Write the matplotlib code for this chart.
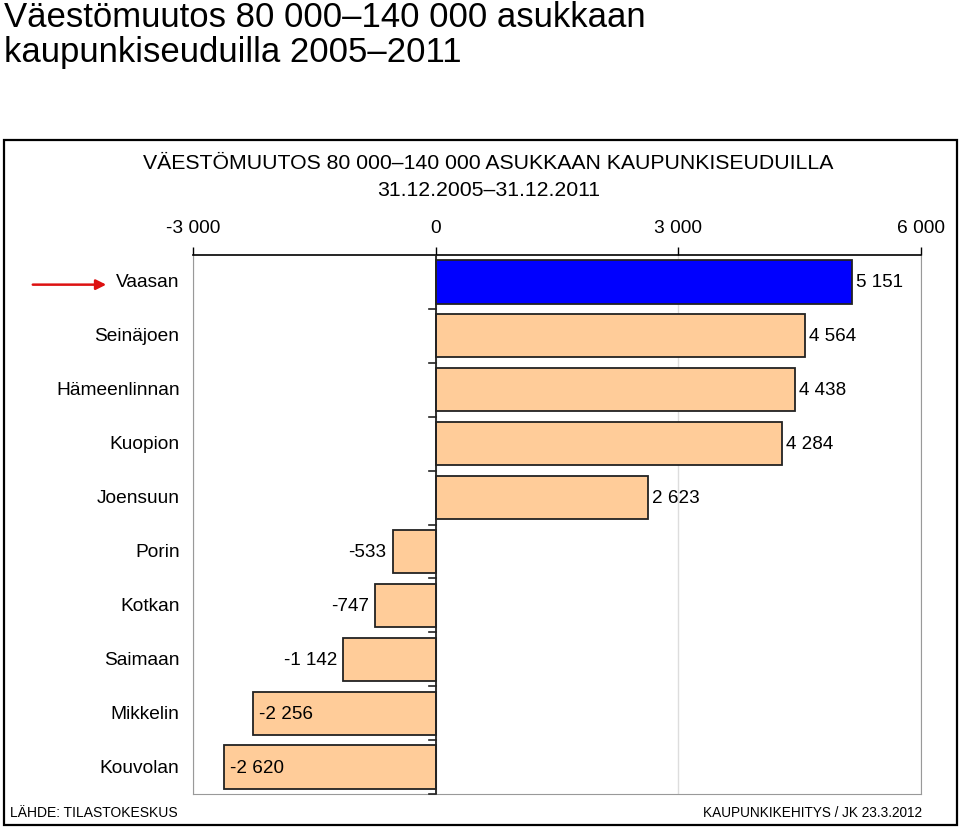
import matplotlib.pyplot as plt
import matplotlib.transforms as mtransforms
from matplotlib.patches import Rectangle, FancyArrowPatch

plt.rcParams['font.family'] = ['Liberation Sans', 'DejaVu Sans']

cities = ['Vaasan', 'Seinäjoen', 'Hämeenlinnan', 'Kuopion', 'Joensuun',
          'Porin', 'Kotkan', 'Saimaan', 'Mikkelin', 'Kouvolan']
change = [5151, 4564, 4438, 4284, 2623, -533, -747, -1142, -2256, -2620]
highlight = 'Vaasan'
xticks = [-3000, 0, 3000, 6000]


def fmt(v):
    return f'{v:,}'.replace(',', ' ')


fig = plt.figure(figsize=(9.6, 8.28), dpi=100)

# outer title
fig.text(0.004, 0.999, 'Väestömuutos 80 000–140 000 asukkaan\nkaupunkiseuduilla 2005–2011',
         ha='left', va='top', fontsize=25, linespacing=1.1)

# frame around chart
fig.add_artist(Rectangle((4 / 960, 2 / 828), 953 / 960, 685 / 828, transform=fig.transFigure,
                         fill=False, edgecolor='black', linewidth=1.6))

fig.text(0.509, 1 - 177 / 828, 'VÄESTÖMUUTOS 80 000–140 000 ASUKKAAN KAUPUNKISEUDUILLA\n31.12.2005–31.12.2011',
         ha='center', va='center', fontsize=15.3, linespacing=1.5)

ax = fig.add_axes([193 / 960, 1 - 795 / 828, 728 / 960, 539 / 828])
ypos = list(range(len(cities)))
colors = ['#0000FF' if c == highlight else '#FFCC99' for c in cities]
ax.barh(ypos, change, height=0.8, color=colors, edgecolor='#222222', linewidth=1.3, zorder=3)

ax.set_xlim(-3000, 6000)
ax.set_ylim(len(cities) - 0.5, -0.5)
ax.xaxis.tick_top()
ax.set_xticks(xticks)
ax.set_xticklabels([fmt(t) for t in xticks], fontsize=13.8)
ax.tick_params(axis='x', length=6, width=1, pad=7.5)
ax.grid(axis='x', color='#dddddd', linewidth=1, zorder=0)

for s in ['left', 'right', 'bottom']:
    ax.spines[s].set_color('#999999')
ax.spines['top'].set_color('black')
ax.spines['top'].set_linewidth(1.2)

# zero axis with category tick marks
ax.axvline(0, color='#222222', linewidth=1.3, zorder=4)
ax.set_yticks([])
for i in range(1, len(cities) + 1):
    ax.plot([-80, 0], [i - 0.5, i - 0.5], color='#222222', linewidth=1.2,
            clip_on=False, zorder=4)

# category labels
lab_tr = mtransforms.blended_transform_factory(ax.transAxes, ax.transData)
for y, c in zip(ypos, cities):
    ax.text(-0.0185, y, c, transform=lab_tr, ha='right', va='center', fontsize=13.8)

# value labels
off = mtransforms.offset_copy(ax.transData, fig=fig, x=4, y=0, units='dots')
off_in = mtransforms.offset_copy(ax.transData, fig=fig, x=6, y=0, units='dots')
off_l = mtransforms.offset_copy(ax.transData, fig=fig, x=-6, y=0, units='dots')
for y, v in zip(ypos, change):
    if v >= 0:
        ax.text(v, y, fmt(v), transform=off, ha='left', va='center', fontsize=13.6, zorder=5)
    elif v < -2000:
        ax.text(v, y, fmt(v), transform=off_in, ha='left', va='center', fontsize=13.6, zorder=5)
    else:
        ax.text(v, y, fmt(v), transform=off_l, ha='right', va='center', fontsize=13.6, zorder=5)

# red arrow pointing to highlighted city
hi = cities.index(highlight)
arr_tr = mtransforms.blended_transform_factory(fig.transFigure, ax.transData)
ax.add_artist(FancyArrowPatch((30 / 960, hi + 0.05), (109 / 960, hi + 0.05), transform=arr_tr,
                              arrowstyle='-|>', mutation_scale=15, color='#DD1111',
                              linewidth=1.8, clip_on=False))

fig.text(10 / 960, 1 - 813 / 828, 'LÄHDE: TILASTOKESKUS', ha='left', va='center', fontsize=10)
fig.text(922 / 960, 1 - 813 / 828, 'KAUPUNKIKEHITYS / JK 23.3.2012', ha='right', va='center', fontsize=9.8)

fig.savefig('out.png', dpi=100)
